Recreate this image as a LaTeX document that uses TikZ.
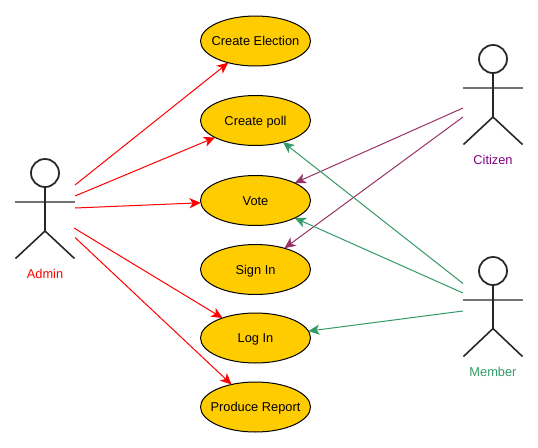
\documentclass[tikz,border=0pt]{standalone}
\usepackage{fontspec}
\setmainfont{Liberation Sans}
\usetikzlibrary{arrows.meta,shapes.geometric}
\definecolor{usecasefill}{HTML}{FFCC00}
\definecolor{citizenline}{HTML}{993366}
\definecolor{citizentext}{HTML}{800080}
\definecolor{memberline}{HTML}{339966}

\begin{document}
\begin{tikzpicture}[x=0.02cm,y=-0.02cm,line width=0.57pt,
    usecase/.style={ellipse,draw=black,fill=usecasefill,minimum width=2.2cm,minimum height=1cm,inner sep=-0.6cm,outer sep=0pt,text height=5.6pt,text depth=0pt,font=\fontsize{7.3}{8}\selectfont},
    head/.style={circle,draw=black!85,line width=1pt,minimum size=0.56cm,inner sep=0pt,outer sep=0pt},
    limb/.style={draw=black!85,line width=0.9pt},
    arm/.style={draw=black!55,line width=1.4pt},
    actorname/.style={font=\fontsize{7.3}{8}\selectfont},
    adminedge/.style={draw=red,-{Stealth[length=6.4pt,width=5.8pt,inset=1.8pt]}},
    citizenedge/.style={draw=citizenline,-{Stealth[length=6.4pt,width=5.8pt,inset=1.8pt]}},
    memberedge/.style={draw=memberline,-{Stealth[length=6.4pt,width=5.8pt,inset=1.8pt]}}]
    \useasboundingbox (0,0) rectangle (538,447);

    % use cases
    \node[usecase] (election) at (255.5,41) {Create Election};
    \node[usecase] (poll) at (255.5,120.5) {Create poll};
    \node[usecase] (vote) at (255.5,200.5) {Vote};
    \node[usecase] (signin) at (255.5,269.5) {Sign In};
    \node[usecase] (login) at (255.5,338) {Log In};
    \node[usecase] (report) at (255.5,407) {Produce Report};

    % admin
    \node[head] (adminhead) at (45,173) {};
    \draw[arm] (15,202) -- (75,202);
    \draw[limb] (adminhead) -- (45,231) -- (15.5,258.5);
    \draw[limb] (45,231) -- (74.5,258.5);
    \node[actorname,text=red] (admin) at (45,274) {Admin};

    % citizen
    \node[head] (citizenhead) at (493,59) {};
    \draw[arm] (463,88) -- (523,88);
    \draw[limb] (citizenhead) -- (493,117) -- (463.5,144.5);
    \draw[limb] (493,117) -- (522.5,144.5);
    \node[actorname,text=citizentext] (citizen) at (493,160) {Citizen};

    % member
    \node[head] (memberhead) at (493,271) {};
    \draw[arm] (463,300) -- (523,300);
    \draw[limb] (memberhead) -- (493,328.5) -- (463.5,356.5);
    \draw[limb] (493,328.5) -- (522.5,356.5);
    \node[actorname,text=memberline] (member) at (493,371.5) {Member};

    % free ends of the connectors
    \coordinate (a1) at (75,185);
    \coordinate (a2) at (75,196);
    \coordinate (a3) at (75,208);
    \coordinate (a4) at (74,228);
    \coordinate (a5) at (75,237.5);
    \coordinate (c1) at (463,108);
    \coordinate (c2) at (463,117);
    \coordinate (m1) at (463,283.5);
    \coordinate (m2) at (463,293);
    \coordinate (m3) at (463,311);

    \draw[adminedge] (a1) -- (election);
    \draw[adminedge] (a2) -- (poll);
    \draw[adminedge] (a3) -- (vote);
    \draw[adminedge] (a4) -- (login);
    \draw[adminedge] (a5) -- (report);
    \draw[citizenedge] (c1) -- (vote);
    \draw[citizenedge] (c2) -- (signin);
    \draw[memberedge] (m1) -- (poll);
    \draw[memberedge] (m2) -- (vote);
    \draw[memberedge] (m3) -- (login);
\end{tikzpicture}
\end{document}
